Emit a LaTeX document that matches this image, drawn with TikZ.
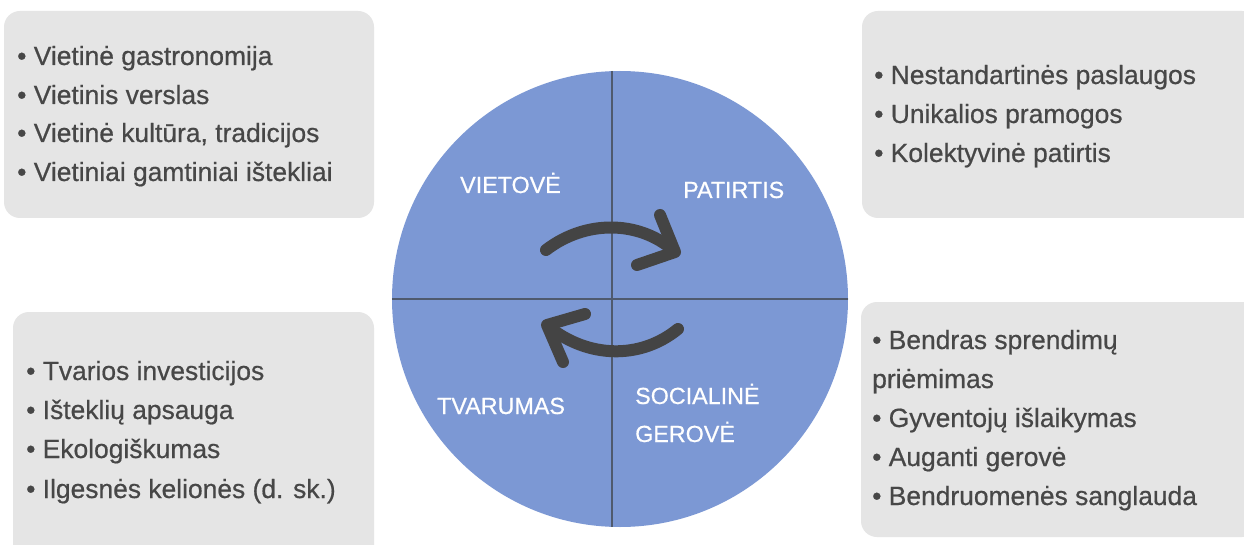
\documentclass[tikz,border=0pt]{standalone}
\usepackage{fontspec}
\setmainfont{Liberation Sans}
\newfontfamily\medfont[FakeBold=0.6]{Liberation Sans}
\definecolor{boxgray}{HTML}{E5E5E5}
\definecolor{txtgray}{HTML}{474747}
\definecolor{wheelblue}{HTML}{7C98D4}
\definecolor{divline}{HTML}{4F5A6E}
\definecolor{arrowgray}{HTML}{444444}
\tikzset{
  infobox/.style={fill=boxgray, draw=none, rounded corners=16pt},
  item/.style={anchor=base west, inner sep=0pt, text=txtgray, font=\medfont\fontsize{26.4}{30}\selectfont},
  quad/.style={anchor=base west, inner sep=0pt, text=white, font=\medfont\fontsize{23.3}{26}\selectfont},
  divider/.style={draw=divline, line width=1.8pt},
  cyclearrow/.style={draw=arrowgray, line width=12pt, line cap=round, line join=round}
}
\begin{document}
\begin{tikzpicture}[x=1pt,y=-1pt]
\useasboundingbox (0,0) rectangle (1244,545);
\clip (0,0) rectangle (1244,545);
\fill[white] (0,0) rectangle (1244,545);
% boxes
\path[infobox] (4,11) rectangle (374,218);
\path[infobox] (862,11) rectangle (1258,218);
\path[infobox] (13,312) rectangle (374,570);
\path[infobox] (861,302) rectangle (1258,537);
% wheel
\node[circle, fill=wheelblue, minimum size=456pt, inner sep=0pt] (wheel) at (620,299) {};
\coordinate (vtop) at (612,71);
\coordinate (vbot) at (612,527);
\draw[divider] (vtop) -- (vbot);
\draw[divider] (wheel.west) -- (wheel.east);
% arrows
\coordinate (a1s) at (546,250);
\coordinate (a1e) at (673,250);
\coordinate (a1t) at (675,252);
\coordinate (a1h1) at (660,215);
\coordinate (a1h2) at (637,265);
\draw[cyclearrow] (a1s) .. controls (585,220) and (638,220) .. (a1e);
\draw[cyclearrow] (a1h1) -- (a1t) -- (a1h2);
\coordinate (a2s) at (678,329);
\coordinate (a2e) at (549,327);
\coordinate (a2t) at (547,325);
\coordinate (a2h1) at (585,314);
\coordinate (a2h2) at (563,362);
\draw[cyclearrow] (a2s) .. controls (640,360) and (588,358) .. (a2e);
\draw[cyclearrow] (a2h1) -- (a2t) -- (a2h2);
% quadrant labels
\node[quad] (q1) at (460,193) {VIETOVĖ};
\node[quad] (q2) at (683,198) {PATIRTIS};
\node[quad] (q3) at (437,414) {TVARUMAS};
\node[quad] (q4a) at (635,404) {SOCIALINĖ};
\node[quad] (q4b) at (635,442) {GEROVĖ};
% top-left list
\node[item] (tl1) at (17,65) {• Vietinė gastronomija};
\node[item] (tl2) at (17,104) {• Vietinis verslas};
\node[item] (tl3) at (17,142) {• Vietinė kultūra, tradicijos};
\node[item] (tl4) at (17,181) {• Vietiniai gamtiniai ištekliai};
% top-right list
\node[item] (tr1) at (874,84) {• Nestandartinės paslaugos};
\node[item] (tr2) at (874,123) {• Unikalios pramogos};
\node[item] (tr3) at (874,162) {• Kolektyvinė patirtis};
% bottom-left list
\node[item] (bl1) at (26,380) {• Tvarios investicijos};
\node[item] (bl2) at (26,419) {• Išteklių apsauga};
\node[item] (bl3) at (26,458) {• Ekologiškumas};
\node[item] (bl4) at (26,498) {• Ilgesnės kelionės (d. sk.)};
% bottom-right list
\node[item] (br1) at (872,349) {• Bendras sprendimų};
\node[item] (br2) at (872,388) {priėmimas};
\node[item] (br3) at (872,427) {• Gyventojų išlaikymas};
\node[item] (br4) at (872,466) {• Auganti gerovė};
\node[item] (br5) at (872,505) {• Bendruomenės sanglauda};
\end{tikzpicture}
\end{document}
